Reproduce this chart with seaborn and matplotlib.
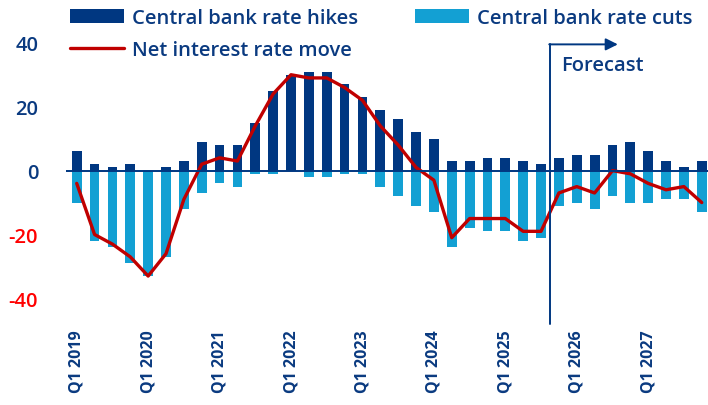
import numpy as np
import pandas as pd
import matplotlib
matplotlib.use("Agg")
import matplotlib.pyplot as plt
import seaborn as sns

# quarters Q1 2019 .. Q4 2027
quarters = [f"Q{q} {y}" for y in range(2019, 2028) for q in range(1, 5)]

# number of central bank rate hikes / cuts per quarter (cuts negative)
hikes = [6, 2, 1, 2, 0, 1, 3, 9, 8, 8, 15, 25,
         30, 31, 31, 27, 23, 19, 16, 12, 10, 3, 3, 4,
         4, 3, 2, 4, 5, 5, 8, 9, 6, 3, 1, 3]
cuts = [-10, -22, -24, -29, -33, -27, -12, -7, -4, -5, -1, -1,
        0, -2, -2, -1, -1, -5, -8, -11, -13, -24, -18, -19,
        -19, -22, -21, -11, -10, -12, -8, -10, -10, -9, -9, -13]
net = [-4, -20, -23, -27, -33, -26, -9, 2, 4, 3, 14, 24,
       30, 29, 29, 26, 22, 14, 8, 1, -3, -21, -15, -15,
       -15, -19, -19, -7, -5, -7, 0, -1, -4, -6, -5, -10]

forecast_start = 27  # Q4 2025

df = pd.DataFrame({"q": quarters, "i": range(len(quarters)),
                   "hikes": hikes, "cuts": cuts, "net": net})

dark = "#003781"
light = "#13a0d3"
red = "#c00000"
txt = "#0a3a80"

sns.set_style("white")
plt.rcParams["font.family"] = ["Open Sans", "DejaVu Sans"]

fig = plt.figure(figsize=(7.08, 4.06), dpi=100)
ax = fig.add_axes([66 / 708, 81 / 406, 642 / 708, 325 / 406])

sns.barplot(data=df, x="i", y="hikes", color=dark, width=0.55, ax=ax,
            saturation=1, label="Central bank rate hikes", edgecolor="none")
sns.barplot(data=df, x="i", y="cuts", color=light, width=0.55, ax=ax,
            saturation=1, label="Central bank rate cuts", edgecolor="none")
sns.lineplot(data=df, x="i", y="net", color=red, lw=2.4, ax=ax,
             label="Net interest rate move")

ax.axhline(0, color=dark, lw=1.4, zorder=3)

ax.set_xlim(-0.6, 35.35)
ax.set_ylim(-48, 53.7)
sns.despine(ax=ax, left=True, bottom=True)

# x ticks on Q1 only
q1 = [i for i, q in enumerate(quarters) if q.startswith("Q1")]
ax.set_xticks(q1)
ax.set_xticklabels([quarters[i] for i in q1], rotation=90, fontsize=11.5,
                   fontweight="bold", color=txt)
ax.tick_params(axis="x", length=0, pad=4)
ax.set_yticks([40, 20, 0, -20, -40])
ax.set_yticklabels(["40", "20", "0", "-20", "-40"], fontsize=14.5,
                   fontweight="semibold")
for lab in ax.get_yticklabels():
    lab.set_color(txt if not lab.get_text().startswith("-") else "#ff0000")
ax.tick_params(axis="y", length=0, pad=20)
ax.set_xlabel("")
ax.set_ylabel("")

# forecast marker
fx = forecast_start - 0.5
ax.plot([fx, fx], [-48, 39.5], color=dark, lw=1.4, clip_on=False, zorder=4)
ax.annotate("", xy=(30.3, 39.5), xytext=(fx - 0.04, 39.5),
            arrowprops=dict(arrowstyle="-|>", color=dark, lw=1.4,
                            mutation_scale=18, shrinkA=0, shrinkB=0))
ax.text(fx + 0.6, 33.2, "Forecast", color=txt, fontsize=14.5,
        fontweight="semibold", ha="left", va="center")

# legend
h, l = ax.get_legend_handles_labels()
order = [l.index("Central bank rate hikes"), l.index("Net interest rate move"),
         l.index("Central bank rate cuts")]
leg = ax.legend([h[k] for k in order], [l[k] for k in order], ncol=2,
                loc="upper left", bbox_to_anchor=(70 / 708, 1 - 9 / 406),
                bbox_transform=fig.transFigure, frameon=False,
                fontsize=14.5, handlelength=2.7, handleheight=0.65,
                handletextpad=0.4, labelspacing=0.6, columnspacing=2.8,
                borderpad=0, borderaxespad=0)
for t in leg.get_texts():
    t.set_color(txt)
    t.set_fontweight("semibold")

fig.savefig("out.png", dpi=100)
